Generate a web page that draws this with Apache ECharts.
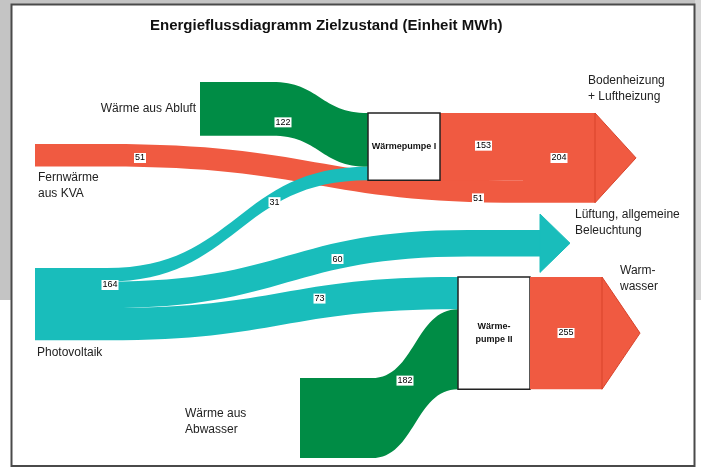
<!DOCTYPE html>
<html>
<head>
<meta charset="utf-8">
<title>Energieflussdiagramm Zielzustand</title>
<script src="https://cdn.jsdelivr.net/npm/echarts@6/dist/echarts.min.js"></script>
<style>
html, body { margin: 0; padding: 0; background: #fff; }
#chart { width: 701px; height: 468px; }
</style>
</head>
<body>
<div id="chart"></div>
<script>
// Knoten und Flüsse (MWh)
const nodeNames = ['Photovoltaik', 'Fernwärme\naus KVA', 'Wärme aus Abluft', 'Wärme aus\nAbwasser',
    'Wärmepumpe I', 'Lüftung, allgemeine\nBeleuchtung', 'Wärme-\npumpe II',
    'Bodenheizung\n+ Luftheizung', 'Warm-\nwasser'];
const nodeDepths = [0, 0, 1, 1, 2, 2, 2, 3, 3];
const linkSources = [1, 2, 0, 0, 0, 3, 4, 6];
const linkTargets = [7, 4, 4, 5, 6, 6, 7, 8];
const linkValues = [51, 122, 31, 60, 73, 182, 153, 255];
// Knoten, deren Summe zusätzlich beschriftet wird
const totalNodes = [1, 0, 7, 8];

const W = 701, H = 468;
const FONT = '"Liberation Sans", Arial, sans-serif';
const GREEN = '#008c45', RED = '#f05a41', TEAL = '#19bdbb';

// Lage der Knoten (Pixel, links oben)
const nodeLeft = [35, 35, 200, 300, 368, 468, 458, 523, 530];
const nodeTop = [268, 144, 82, 378, 113, 230, 277, 113, 277];
const nodeFill = [TEAL, RED, GREEN, GREEN, '#fff', TEAL, '#fff', RED, RED];
const linkColors = [RED, GREEN, TEAL, TEAL, TEAL, GREEN, RED, RED];
const nodeLabels = [
    { position: [2, 77], align: 'left', verticalAlign: 'top' },
    { position: [3, 26], align: 'left', verticalAlign: 'top' },
    { position: 'left', distance: 4 },
    { position: [-115, 28], align: 'left', verticalAlign: 'top' },
    { position: 'inside', fontWeight: 'bold', fontSize: 9, color: '#111' },
    { position: [107, -23], align: 'left', verticalAlign: 'top' },
    { position: 'inside', fontWeight: 'bold', fontSize: 9, color: '#111', lineHeight: 13 },
    { position: [65, -40], align: 'left', verticalAlign: 'top' },
    { position: [90, -14], align: 'left', verticalAlign: 'top' }
];
// Lage der Flusswerte relativ zur Mitte des Bandes (null: Wert am Knoten)
const edgeOffsets = [[163, 25], [-37, -2], [37, -22], [50, -10], [37, -10], [-10, -3], [2, -1], null];
// Pfeilspitzen: Knoten, Länge, Überstand
const arrowNodes = [7, 5, 8];
const arrowLen = [41, 30, 38];
const arrowExt = [0, 16, 0];
const totalPos = [[105, 14], [75, 17], [36, 45], [36, 56]];

const valueLabel = {
    show: true, fontFamily: FONT, fontSize: 9, color: '#000',
    backgroundColor: '#fff', padding: [1, 1, 0, 1], overflow: 'none'
};

const nodes = nodeNames.map((name, i) => ({
    name: name,
    depth: nodeDepths[i],
    localX: nodeLeft[i] / W,
    localY: nodeTop[i] / H,
    itemStyle: {
        color: nodeFill[i],
        borderColor: nodeFill[i] === '#fff' ? '#222' : nodeFill[i],
        borderWidth: nodeFill[i] === '#fff' ? 1.5 : 0
    },
    label: nodeLabels[i]
}));
const links = linkValues.map((v, i) => ({
    source: nodeNames[linkSources[i]],
    target: nodeNames[linkTargets[i]],
    value: v,
    lineStyle: { color: linkColors[i], opacity: 1 },
    edgeLabel: edgeOffsets[i] ? { offset: edgeOffsets[i] } : { show: false }
}));

const chart = echarts.init(document.getElementById('chart'));
chart.setOption({
    animation: false,
    backgroundColor: '#fff',
    title: {
        text: 'Energieflussdiagramm Zielzustand (Einheit MWh)',
        left: 145, top: 13,
        textStyle: { fontFamily: FONT, fontSize: 15, fontWeight: 'bold', color: '#111' }
    },
    series: [{
        type: 'sankey',
        left: 0, top: 0, right: 0, bottom: 0,
        nodeWidth: 72,
        nodeGap: 131,
        layoutIterations: 0,
        draggable: false,
        emphasis: { disabled: true },
        label: { fontFamily: FONT, fontSize: 12, color: '#222', lineHeight: 16 },
        edgeLabel: Object.assign({ formatter: '{c}' }, valueLabel),
        lineStyle: { opacity: 1, curveness: 0.5 },
        data: nodes,
        links: links
    }]
});

// Rahmen, Pfeilspitzen und Summen aus dem Layout der Knoten
const nodeData = chart.getModel().getSeriesByIndex(0).getData();
const nodeBox = i => {
    const lay = nodeData.getItemLayout(i);
    return { x: nodeLeft[i], y: nodeTop[i], w: lay.dx, h: lay.dy, v: lay.value };
};
const graphic = [
    { type: 'rect', z: -10, shape: { x: 0, y: 0, width: W, height: 300 }, style: { fill: '#c4c4c4' } },
    { type: 'rect', z: -10, shape: { x: 695, y: 0, width: 6, height: 300 }, style: { fill: '#d6d6d6' } },
    { type: 'rect', z: -9, shape: { x: 11.5, y: 4.5, width: 683, height: 461.5 },
      style: { fill: '#fff', stroke: '#4a4a4a', lineWidth: 2 } }
];
arrowNodes.forEach((n, k) => {
    const b = nodeBox(n);
    graphic.push({
        type: 'polygon', z: 5,
        shape: { points: [[b.x + b.w, b.y - arrowExt[k]], [b.x + b.w + arrowLen[k], b.y + b.h / 2], [b.x + b.w, b.y + b.h + arrowExt[k]]] },
        style: { fill: nodeFill[n], stroke: nodeFill[n] === RED ? '#d8432b' : nodeFill[n], lineWidth: 1 }
    });
});
totalNodes.forEach((n, k) => {
    const b = nodeBox(n);
    graphic.push({
        type: 'text', z: 20,
        x: b.x + totalPos[k][0], y: b.y + totalPos[k][1],
        style: { text: String(b.v), align: 'center', verticalAlign: 'middle',
            font: '9px ' + FONT, fill: '#000', backgroundColor: '#fff', padding: [1, 1, 0, 1] }
    });
});
chart.setOption({ graphic: graphic });
</script>
</body>
</html>
